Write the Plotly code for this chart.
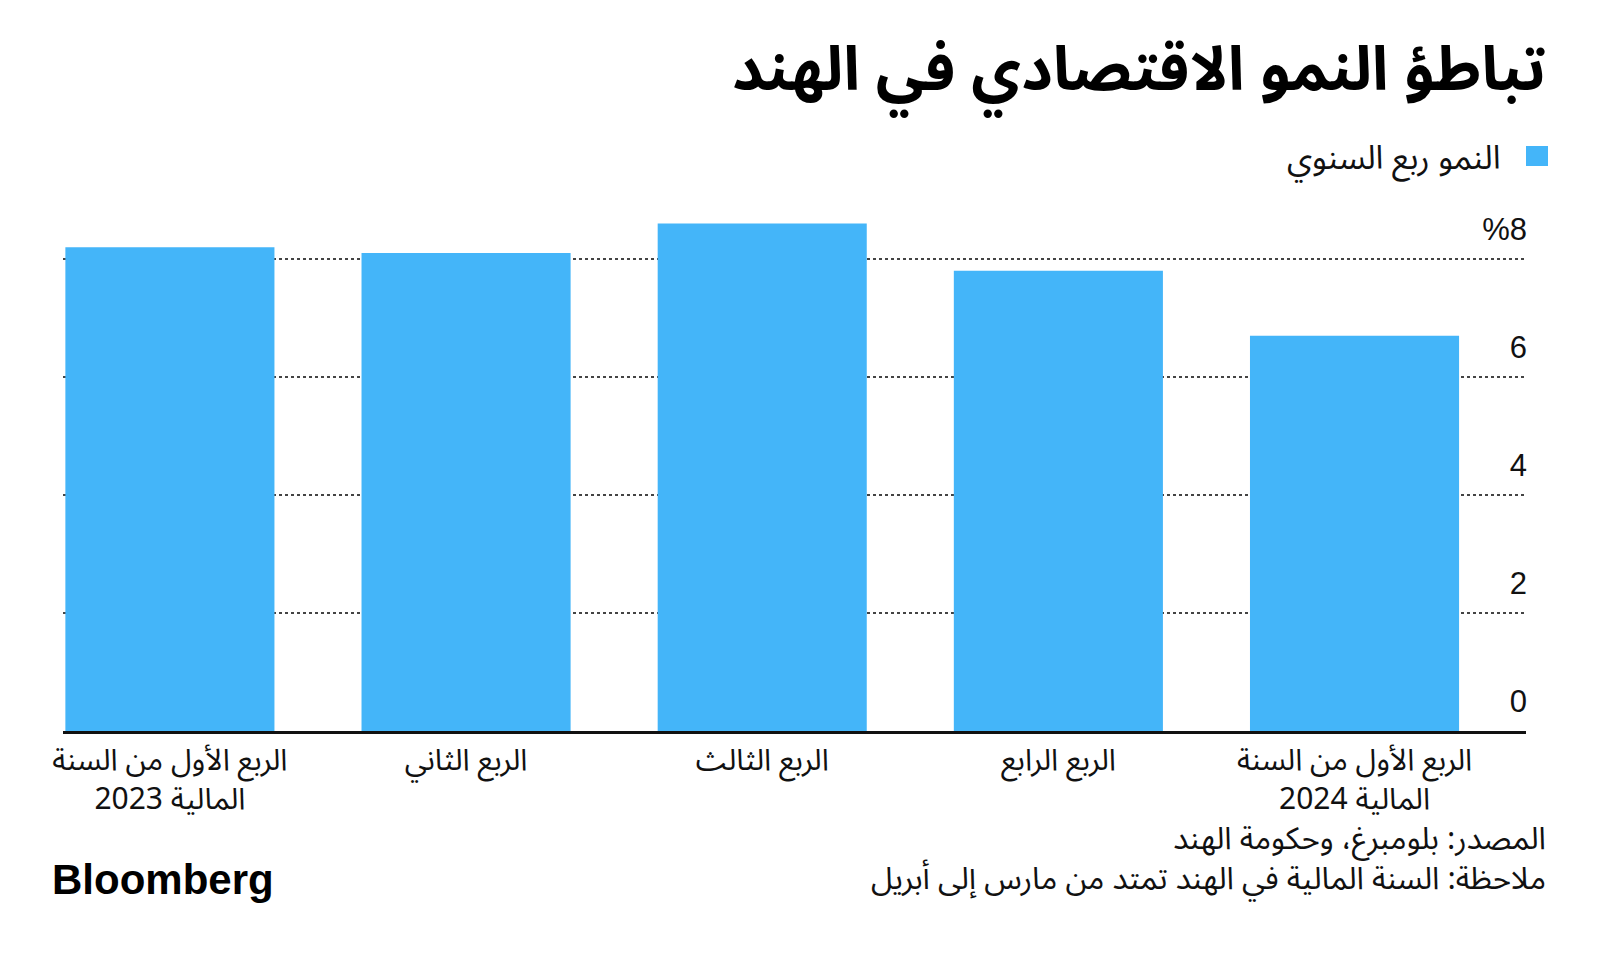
import plotly.graph_objects as go

# Data
categories = [
    "الربع الأول من السنة<br>المالية 2023",
    "الربع الثاني",
    "الربع الثالث",
    "الربع الرابع",
    "الربع الأول من السنة<br>المالية 2024",
]
growth = [8.2, 8.1, 8.6, 7.8, 6.7]
y_ticks = [0, 2, 4, 6, 8]
y_ticktext = ["0", "2", "4", "6", "%8"]

title_text = "تباطؤ النمو الاقتصادي في الهند"
legend_text = "النمو ربع السنوي"
source_text = "المصدر: بلومبرغ، وحكومة الهند"
note_text = "ملاحظة: السنة المالية في الهند تمتد من مارس إلى أبريل"

BLUE = "#44B5F9"
FONT = "Noto Sans Arabic, DejaVu Sans, Noto Sans, sans-serif"
W, H = 1600, 956
L, R, T, B = 63, 74, 200, 225

fig = go.Figure()
fig.add_trace(go.Bar(
    x=categories, y=growth, marker=dict(color=BLUE, line=dict(width=0)),
    showlegend=False, hoverinfo="y",
))

fig.update_layout(
    width=W, height=H,
    margin=dict(l=L, r=R, t=T, b=B),
    paper_bgcolor="white", plot_bgcolor="white",
    bargap=0.294,
    font=dict(family=FONT, color="#111111", size=26),
    xaxis=dict(
        type="category", range=[-0.361, 4.579],
        showgrid=False, ticks="", showline=True, linecolor="#111111", linewidth=3,
        tickfont=dict(size=30, color="#111111"), zeroline=False,
    ),
    yaxis=dict(
        range=[0, 9], side="right", tickvals=y_ticks, ticktext=y_ticktext,
        ticklabelposition="inside", ticklabelshift=-30, ticklabelstandoff=-4,
        showgrid=True, gridcolor="#444444", griddash="dot", gridwidth=1.5,
        zeroline=False, showline=False, ticks="",
        tickfont=dict(size=31, color="#111111", family="Liberation Sans, Arial, sans-serif"),
        layer="below traces",
    ),
)

# Title
fig.add_annotation(
    x=1548, y=H - 71, xref="paper", yref="paper", text="<b>" + title_text + "</b>",
    showarrow=False, xanchor="right", yanchor="middle",
    font=dict(size=61, color="#000000", family=FONT),
)

# Legend (RTL): square on the right, text to its left
fig.add_shape(type="rect", xref="paper", yref="paper",
              x0=1526, x1=1548, y0=H - 166, y1=H - 146,
              fillcolor=BLUE, line=dict(width=0))
fig.add_annotation(
    x=1503, y=H - 158, xref="paper", yref="paper", text=legend_text,
    showarrow=False, xanchor="right", yanchor="middle",
    font=dict(size=33, color="#111111", family=FONT),
)

# Source & note
fig.add_annotation(
    x=1548, y=H - 859, xref="paper", yref="paper",
    text=source_text + "<br>" + note_text,
    showarrow=False, xanchor="right", yanchor="middle", align="right",
    font=dict(size=31, color="#111111", family=FONT),
)

# Bloomberg logo text
fig.add_annotation(
    x=50, y=H - 879, xref="paper", yref="paper", text="<b>Bloomberg</b>",
    showarrow=False, xanchor="left", yanchor="middle",
    font=dict(size=42, color="#000000", family="Liberation Sans, Arial, sans-serif"),
)

# convert paper-pixel annotations to paper fractions
for a in fig.layout.annotations:
    a.x = (a.x - L) / (W - L - R)
    a.y = (a.y - B) / (H - T - B)
for s in fig.layout.shapes:
    s.x0 = (s.x0 - L) / (W - L - R)
    s.x1 = (s.x1 - L) / (W - L - R)
    s.y0 = (s.y0 - B) / (H - T - B)
    s.y1 = (s.y1 - B) / (H - T - B)

fig.write_html("out.html")
